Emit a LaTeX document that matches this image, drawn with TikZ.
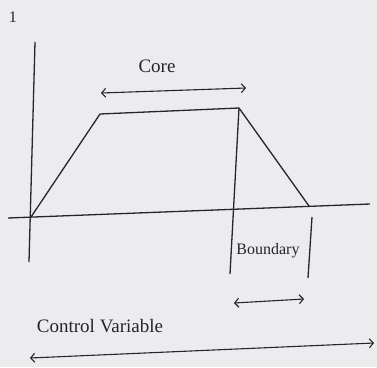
\documentclass[tikz,border=0pt]{standalone}
\usepackage{fontspec}
\setmainfont{Liberation Serif}
\usetikzlibrary{arrows.meta}
\definecolor{paper}{RGB}{236,236,238}
\definecolor{ink}{RGB}{38,38,40}
\begin{document}
\begin{tikzpicture}[x=1pt,y=-1pt,
  axisline/.style={draw=ink,line width=1.3pt},
  curve/.style={draw=ink,line width=1.3pt,line join=round},
  dimarrow/.style={draw=ink,line width=1.1pt,
    {Straight Barb[length=4pt,width=9pt]}-{Straight Barb[length=4pt,width=9pt]}},
  lbl/.style={text=ink,inner sep=0pt,font=\fontsize{19}{21}\selectfont},
  smalllbl/.style={text=ink,inner sep=0pt,font=\fontsize{16}{18}\selectfont}]
\fill[paper] (0,0) rectangle (377,367);
\useasboundingbox (0,0) rectangle (377,367);
% axes
\coordinate (ytop) at (35,42);
\coordinate (ybot) at (29,262);
\coordinate (xleft) at (8,218);
\coordinate (xright) at (370,204);
\draw[axisline] (ytop) -- (ybot);
\draw[axisline] (xleft) -- (xright);
% trapezoid
\coordinate (p0) at (31,217);
\coordinate (p1) at (100,114);
\coordinate (p2) at (239,108);
\coordinate (p3) at (309,206);
\draw[curve] (p0) -- (p1) -- (p2) -- (p3);
% boundary verticals
\coordinate (v1b) at (230,274);
\coordinate (v2t) at (312,217);
\coordinate (v2b) at (308,278);
\draw[axisline] (p2) -- (v1b);
\draw[axisline] (v2t) -- (v2b);
% labels
\node[smalllbl] (one) at (13,17) {1};
\node[lbl] (core) at (157,66) {Core};
\node[smalllbl] (boundary) at (268,251) {Boundary};
\node[lbl] (cv) at (100,326) {Control Variable};
% dimension arrows
\coordinate (ca) at (101,93);
\coordinate (cb) at (246,88);
\draw[dimarrow] (ca) -- (cb);
\coordinate (ba) at (234,303);
\coordinate (bb) at (304,299);
\draw[dimarrow] (ba) -- (bb);
\coordinate (cva) at (30,358);
\coordinate (cvb) at (374,343);
\draw[dimarrow] (cva) -- (cvb);
\end{tikzpicture}
\end{document}
